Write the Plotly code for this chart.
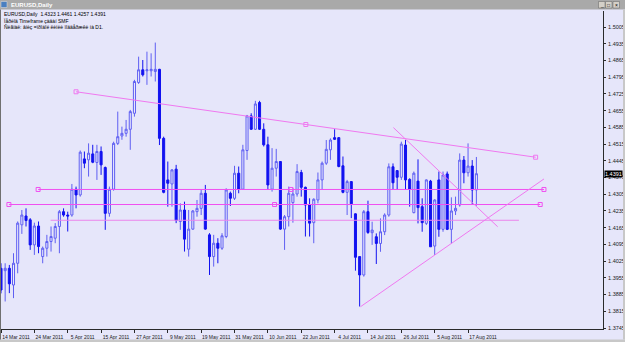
import plotly.graph_objects as go
import pandas as pd

# ---------------- data ----------------
dates = pd.bdate_range("2011-03-14", "2011-08-19")  # daily bars (trading days)

opens = [1.3995, 1.3985, 1.3995, 1.3925, 1.4016, 1.4177, 1.4214, 1.4198, 1.4093, 1.4172,
         1.4044, 1.4079, 1.4107, 1.4121, 1.4170, 1.4232, 1.4218, 1.4218, 1.4326, 1.4302,
         1.4453, 1.4449, 1.4474, 1.4438, 1.4484, 1.4417, 1.4225, 1.4326, 1.4518, 1.4549,
         1.4560, 1.4577, 1.4644, 1.4773, 1.4826, 1.4822, 1.4822, 1.4819, 1.4828, 1.4539,
         1.4365, 1.4348, 1.4410, 1.4191, 1.4239, 1.4075, 1.4159, 1.4232, 1.4246, 1.4309,
         1.4135, 1.4044, 1.4100, 1.4079, 1.4128, 1.4309, 1.4288, 1.4393, 1.4326, 1.4488,
         1.4633, 1.4577, 1.4689, 1.4577, 1.4512, 1.4326, 1.4414, 1.4442, 1.4159, 1.4211,
         1.4270, 1.4306, 1.4396, 1.4334, 1.4260, 1.4186, 1.4281, 1.4365, 1.4435, 1.4491,
         1.4542, 1.4542, 1.4424, 1.4313, 1.4358, 1.4223, 1.4044, 1.3967, 1.4232, 1.4144,
         1.4127, 1.4099, 1.4148, 1.4218, 1.4420, 1.4404, 1.4376, 1.4511, 1.4367, 1.4228,
         1.4360, 1.4253, 1.4183, 1.4360, 1.4088, 1.4365, 1.4158, 1.4390, 1.4158, 1.4235,
         1.4260, 1.4448, 1.4395, 1.4423, 1.4323]
highs = [1.4016, 1.4016, 1.4009, 1.4058, 1.4191, 1.4239, 1.4246, 1.4205, 1.4186, 1.4191,
         1.4086, 1.4135, 1.4170, 1.4184, 1.4239, 1.4246, 1.4232, 1.4348, 1.4337, 1.4488,
         1.4484, 1.4518, 1.4512, 1.4512, 1.4505, 1.4421, 1.4337, 1.4525, 1.4651, 1.4588,
         1.4616, 1.4658, 1.4784, 1.4881, 1.4867, 1.4902, 1.4895, 1.4940, 1.4830, 1.4546,
         1.4442, 1.4410, 1.4428, 1.4267, 1.4274, 1.4239, 1.4239, 1.4281, 1.4323, 1.4344,
         1.4142, 1.4135, 1.4121, 1.4142, 1.4330, 1.4316, 1.4424, 1.4421, 1.4512, 1.4637,
         1.4644, 1.4696, 1.4696, 1.4602, 1.4546, 1.4498, 1.4495, 1.4442, 1.4218, 1.4337,
         1.4330, 1.4431, 1.4407, 1.4337, 1.4288, 1.4288, 1.4396, 1.4442, 1.4532, 1.4539,
         1.4577, 1.4544, 1.4463, 1.4365, 1.4358, 1.4225, 1.4044, 1.4239, 1.4278, 1.4190,
         1.4141, 1.4204, 1.4225, 1.4434, 1.4434, 1.4406, 1.4525, 1.4532, 1.4372, 1.4400,
         1.4451, 1.4288, 1.4367, 1.4365, 1.4284, 1.4400, 1.4400, 1.4400, 1.4292, 1.4295,
         1.4476, 1.4465, 1.4518, 1.4448, 1.4461]
lows = [1.3890, 1.3856, 1.3891, 1.3870, 1.3974, 1.4139, 1.4170, 1.4072, 1.4051, 1.4058,
        1.4016, 1.4044, 1.4065, 1.4100, 1.4058, 1.4211, 1.4149, 1.4211, 1.4246, 1.4295,
        1.4414, 1.4379, 1.4435, 1.4365, 1.4386, 1.4156, 1.4211, 1.4320, 1.4511, 1.4533,
        1.4546, 1.4491, 1.4630, 1.4767, 1.4798, 1.4763, 1.4798, 1.4777, 1.4511, 1.4309,
        1.4253, 1.4253, 1.4184, 1.4156, 1.4065, 1.4044, 1.4156, 1.4211, 1.4218, 1.4156,
        1.3967, 1.4002, 1.4016, 1.4072, 1.4121, 1.4256, 1.4281, 1.4309, 1.4323, 1.4449,
        1.4574, 1.4574, 1.4574, 1.4505, 1.4323, 1.4316, 1.4379, 1.4156, 1.4072, 1.4170,
        1.4186, 1.4295, 1.4295, 1.4128, 1.4128, 1.4100, 1.4267, 1.4323, 1.4428, 1.4449,
        1.4532, 1.4418, 1.4309, 1.4218, 1.4205, 1.3985, 1.3835, 1.3960, 1.4139, 1.4093,
        1.4013, 1.4064, 1.4134, 1.4211, 1.4323, 1.4323, 1.4365, 1.4323, 1.4253, 1.4225,
        1.4183, 1.4148, 1.4176, 1.4085, 1.4051, 1.4127, 1.4148, 1.4155, 1.4099, 1.4218,
        1.4253, 1.4351, 1.4379, 1.4260, 1.4257]
closes = [1.3904, 1.3995, 1.3930, 1.4016, 1.4184, 1.4218, 1.4195, 1.4093, 1.4172, 1.4086,
          1.4079, 1.4107, 1.4128, 1.4170, 1.4232, 1.4218, 1.4214, 1.4326, 1.4302, 1.4481,
          1.4435, 1.4477, 1.4439, 1.4484, 1.4428, 1.4225, 1.4326, 1.4518, 1.4546, 1.4560,
          1.4577, 1.4651, 1.4777, 1.4826, 1.4805, 1.4826, 1.4828, 1.4828, 1.4539, 1.4313,
          1.4351, 1.4407, 1.4195, 1.4239, 1.4117, 1.4159, 1.4235, 1.4246, 1.4309, 1.4159,
          1.4044, 1.4100, 1.4079, 1.4131, 1.4323, 1.4288, 1.4393, 1.4326, 1.4491, 1.4633,
          1.4577, 1.4683, 1.4577, 1.4512, 1.4344, 1.4414, 1.4442, 1.4159, 1.4211, 1.4309,
          1.4306, 1.4400, 1.4334, 1.4260, 1.4184, 1.4284, 1.4365, 1.4435, 1.4493, 1.4532,
          1.4535, 1.4421, 1.4313, 1.4358, 1.4265, 1.4041, 1.3967, 1.4232, 1.4145, 1.4155,
          1.4099, 1.4148, 1.4218, 1.4420, 1.4353, 1.4376, 1.4515, 1.4365, 1.4326, 1.4393,
          1.4249, 1.4186, 1.4365, 1.4085, 1.4281, 1.4158, 1.4386, 1.4158, 1.4235, 1.4246,
          1.4448, 1.4395, 1.4423, 1.4323, 1.4391]

date_tick_labels = ["14 Mar 2011", "24 Mar 2011", "5 Apr 2011", "15 Apr 2011", "27 Apr 2011",
                    "9 May 2011", "19 May 2011", "31 May 2011", "10 Jun 2011", "22 Jun 2011",
                    "4 Jul 2011", "14 Jul 2011", "26 Jul 2011", "5 Aug 2011", "17 Aug 2011"]
price_tick_labels = ["1.5005", "1.4935", "1.4865", "1.4795", "1.4725", "1.4655", "1.4585",
                     "1.4515", "1.4445", "1.4375", "1.4305", "1.4235", "1.4165", "1.4095",
                     "1.4025", "1.3955", "1.3885", "1.3815", "1.3745"]

header_lines = ["EURUSD,Daily  1.4323 1.4461 1.4257 1.4391",
                "Ïåðèîä Timeframe çàäàí SMF",
                "Ñèãíàë: âíèç =ïðîáîé ëèíèè ïîääåðæêè íà D1."]
last_price = "1.4391"

# drawn objects: (bar index, price) anchors
resist_x, resist_y = [18.0, 128.2], [1.4734, 1.4460]
hline1_x, hline1_y = [8.9, 130.2], [1.4325, 1.4325]
hline2_x, hline2_y = [1.9, 129.3], [1.4262, 1.4262]
hline3_x, hline3_y = [11.9, 124.2], [1.4196, 1.4196]
steep_x, steep_y = [94.1, 119.1], [1.4584, 1.4169]
support_x, support_y = [86.2, 130.2], [1.3834, 1.4369]

# ---------------- figure ----------------
W, H = 625, 342
L, R, T, B = 1, 22, 11, 13
BG = "#E6E6FA"
AX = "#2A2A2A"
BULL = "#5F5FF2"
BEAR = "#1212F0"
MAG = "#F050F0"
PINK = "#F078F0"


def pxx(p):
    return (p - L) / (W - L - R)


def pxy(p):
    return 1 - (p - T) / (H - T - B)


idx = list(range(len(dates)))
date_text = [f"{d.day} {d.strftime('%b %Y')}" for d in dates]
tick_pos = [date_text.index(s) for s in date_tick_labels]

fig = go.Figure()
fig.add_trace(go.Candlestick(
    x=idx, open=opens, high=highs, low=lows, close=closes,
    increasing=dict(line=dict(color=BULL, width=1), fillcolor="#ECECFC"),
    decreasing=dict(line=dict(color=BEAR, width=1), fillcolor=BEAR),
    whiskerwidth=0, hoverinfo="skip", showlegend=False))


def add_line(xs, ys, color, marks, width=1):
    if marks:
        xs = [xs[0], (xs[0] + xs[1]) / 2, xs[1]]
        ys = [ys[0], (ys[0] + ys[1]) / 2, ys[1]]
    fig.add_trace(go.Scatter(
        x=xs, y=ys, mode="lines+markers" if marks else "lines",
        line=dict(color=color, width=width),
        marker=dict(symbol="square-open", size=4, color=color, line=dict(width=1, color=color)),
        hoverinfo="skip", showlegend=False))


add_line(resist_x, resist_y, PINK, True)
add_line(hline1_x, hline1_y, MAG, True)
add_line(hline2_x, hline2_y, MAG, True)
add_line(hline3_x, hline3_y, "#EC86EC", False)
add_line(steep_x, steep_y, PINK, False)
add_line(support_x, support_y, PINK, False)

font = "Liberation Sans"
shapes = [
    # title bar
    dict(type="rect", xref="paper", yref="paper", x0=pxx(0), x1=pxx(625), y0=pxy(0), y1=pxy(9.5),
         fillcolor="#A9A9A9", line=dict(width=0), layer="above"),
    dict(type="rect", xref="paper", yref="paper", x0=pxx(1), x1=pxx(7), y0=pxy(1.5), y1=pxy(7.5),
         fillcolor="#4A7FC0", line=dict(width=0.5, color="#E0E0E0"), layer="above"),
    # bottom strip
    dict(type="rect", xref="paper", yref="paper", x0=pxx(0), x1=pxx(625), y0=pxy(339.5), y1=pxy(342),
         fillcolor="#C8C8C8", line=dict(width=0), layer="above"),
    # left / right frame
    dict(type="rect", xref="paper", yref="paper", x0=pxx(0), x1=pxx(1), y0=pxy(9.5), y1=pxy(339.5),
         fillcolor="#707070", line=dict(width=0), layer="above"),
    dict(type="rect", xref="paper", yref="paper", x0=pxx(623), x1=pxx(625), y0=pxy(9.5), y1=pxy(339.5),
         fillcolor="#C8C8C8", line=dict(width=0), layer="above"),
]
# window buttons
for bx in (598.5, 605.5, 613):
    shapes.append(dict(type="rect", xref="paper", yref="paper", x0=pxx(bx), x1=pxx(bx + 6.5),
                       y0=pxy(1.5), y1=pxy(8), fillcolor="#D4D0C8",
                       line=dict(width=0.5, color="#606060"), layer="above"))

annotations = [
    dict(text="<b>EURUSD,Daily</b>", x=pxx(9), y=pxy(5), xref="paper", yref="paper",
         xanchor="left", yanchor="middle", showarrow=False,
         font=dict(family=font, size=6, color="#FFFFFF")),
]
for bx, g in zip((601.75, 608.75, 616.25), ("_", "□", "×")):
    annotations.append(dict(text=g, x=pxx(bx), y=pxy(4.8), xref="paper", yref="paper",
                            xanchor="center", yanchor="middle", showarrow=False,
                            font=dict(family=font, size=5, color="#000000")))
for k, line in enumerate(header_lines):
    annotations.append(dict(text=line, x=pxx(1.5), y=pxy(14.2 + 6.6 * k), xref="paper", yref="paper",
                            xanchor="left", yanchor="middle", showarrow=False,
                            font=dict(family=font, size=5, color="#000000")))
annotations.append(dict(text=last_price, x=pxx(604), y=float(last_price), xref="paper", yref="y",
                        xanchor="left", yanchor="middle", showarrow=False, bgcolor="#000000",
                        borderpad=0, font=dict(family=font, size=5.5, color="#FFFFFF")))

fig.update_layout(
    width=W, height=H, margin=dict(l=L, r=R, t=T, b=B),
    paper_bgcolor=BG, plot_bgcolor=BG, showlegend=False, hovermode=False,
    shapes=shapes, annotations=annotations,
    xaxis=dict(range=[0, 144.36], rangeslider=dict(visible=False), showgrid=False, zeroline=False,
               showline=True, linecolor=AX, linewidth=1, ticks="outside", ticklen=3, tickwidth=1,
               tickcolor=AX, tickvals=tick_pos, ticktext=date_tick_labels, tickangle=0,
               ticklabelshift=15, ticklabelstandoff=0,
               tickfont=dict(family=font, size=5, color="#202020"), fixedrange=True),
    yaxis=dict(side="right", range=[1.37408, 1.50722], showgrid=False, zeroline=False,
               showline=True, linecolor=AX, linewidth=1, ticks="outside", ticklen=2, tickwidth=1,
               tickcolor=AX, tickvals=[float(s) for s in price_tick_labels], ticktext=price_tick_labels,
               ticklabelstandoff=1,
               tickfont=dict(family=font, size=5.5, color="#202020"), fixedrange=True),
)

fig.write_html("out.html", config={"displayModeBar": False, "staticPlot": True})
